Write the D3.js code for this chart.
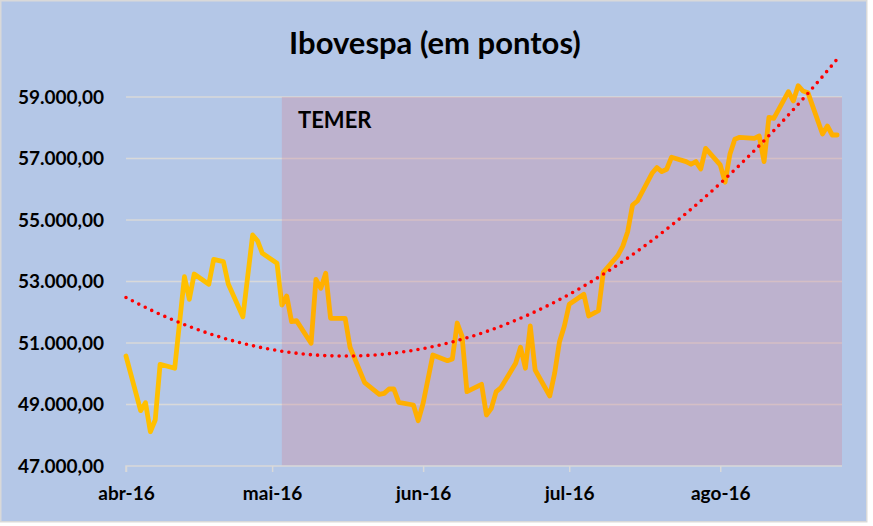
<!DOCTYPE html>
<html>
<head>
<meta charset="utf-8">
<script src="https://cdn.jsdelivr.net/npm/d3@7"></script>
<style>
  html, body { margin: 0; padding: 0; background: #ffffff; }
  svg { display: block; font-family: Lato, "Open Sans", sans-serif; }
</style>
</head>
<body>
<svg id="chart" width="873" height="526"></svg>
<script>
// ---- data ----
const title = "Ibovespa (em pontos)";
const periodLabel = "TEMER";
const periodStart = "2016-05-03";
const domainStart = "2016-04-01";
const domainEnd = "2016-08-26";
const yTicks = [47000, 49000, 51000, 53000, 55000, 57000, 59000];
const monthTicks = ["2016-04-01", "2016-05-01", "2016-06-01", "2016-07-01", "2016-08-01"];
const monthLabels = ["abr-16", "mai-16", "jun-16", "jul-16", "ago-16"];

const dates = [
  "2016-04-01","2016-04-04","2016-04-05","2016-04-06","2016-04-07","2016-04-08",
  "2016-04-11","2016-04-13","2016-04-14","2016-04-15","2016-04-18","2016-04-19",
  "2016-04-21","2016-04-22","2016-04-25","2016-04-27","2016-04-28","2016-04-29",
  "2016-05-02","2016-05-03","2016-05-04","2016-05-05","2016-05-06","2016-05-09",
  "2016-05-10","2016-05-11","2016-05-12","2016-05-13","2016-05-16","2016-05-17",
  "2016-05-20","2016-05-23","2016-05-24","2016-05-25","2016-05-26","2016-05-27",
  "2016-05-30","2016-05-31","2016-06-01","2016-06-03","2016-06-06","2016-06-07",
  "2016-06-08","2016-06-09","2016-06-10","2016-06-13","2016-06-14","2016-06-15",
  "2016-06-16","2016-06-17","2016-06-20","2016-06-21","2016-06-22","2016-06-23",
  "2016-06-24","2016-06-27","2016-06-28","2016-06-29","2016-06-30","2016-07-01",
  "2016-07-04","2016-07-05","2016-07-07","2016-07-08","2016-07-11","2016-07-12",
  "2016-07-13","2016-07-14","2016-07-15","2016-07-18","2016-07-19","2016-07-20",
  "2016-07-21","2016-07-22","2016-07-25","2016-07-26","2016-07-27","2016-07-28",
  "2016-07-29","2016-08-01","2016-08-02","2016-08-03","2016-08-04","2016-08-05",
  "2016-08-08","2016-08-09","2016-08-10","2016-08-11","2016-08-12","2016-08-15",
  "2016-08-16","2016-08-17","2016-08-18","2016-08-19","2016-08-22","2016-08-23",
  "2016-08-24","2016-08-25"
];
const values = [
  50577,48800,49060,48115,48496,50307,
  50177,53156,52420,53244,52910,53720,
  53645,52919,51855,54512,54327,53917,
  53593,52236,52528,51693,51726,50990,
  53072,52779,53266,51802,51802,50861,
  49709,49331,49363,49504,49504,49070,
  48984,48474,49040,50610,50425,50480,
  51650,51215,49417,49656,48659,48873,
  49417,49550,50340,50860,50178,51553,
  50122,49276,50014,51042,51553,52258,
  52585,51878,52053,53300,53850,54150,
  54620,55488,55618,56520,56704,56574,
  56650,57040,56899,56813,56899,56660,
  57330,56790,56230,57150,57624,57689,
  57657,57732,56899,58340,58307,59172,
  58870,59368,59195,59141,57797,58057,
  57764,57764
];

// ---- chart ----
const W = 873, H = 526;
const parse = d3.utcParse("%Y-%m-%d");
const svg = d3.select("#chart");

const x = d3.scaleUtc().domain([parse(domainStart), parse(domainEnd)]).range([126, 842]);
const y = d3.scaleLinear().domain([47000, 59000]).range([466, 97]);

const loc = d3.formatLocale({decimal: ",", thousands: ".", grouping: [3], currency: ["R$", ""]});
const fmt = loc.format(",.2f");

const data = dates.map((d, i) => ({date: parse(d), value: values[i]}));

// background + border
svg.append("rect").attr("x", 0.75).attr("y", 0.75).attr("width", 866).attr("height", 521)
  .attr("fill", "#B4C7E7").attr("stroke", "#D9D9D9").attr("stroke-width", 1.5);

// title
svg.append("text").attr("x", 435).attr("y", 54).attr("text-anchor", "middle")
  .attr("font-size", 31).attr("font-weight", 700).attr("fill", "#000").text(title);

// gridlines
svg.append("g").selectAll("line").data(yTicks.slice(1)).join("line")
  .attr("x1", x.range()[0]).attr("x2", x.range()[1])
  .attr("y1", d => y(d)).attr("y2", d => y(d))
  .attr("stroke", "#D9D9D9").attr("stroke-width", 1.5);

// y labels
svg.append("g").selectAll("text").data(yTicks).join("text")
  .attr("x", 104).attr("y", d => y(d)).attr("dy", "0.36em").attr("text-anchor", "end")
  .attr("font-size", 19).attr("font-weight", 700).attr("fill", "#000")
  .text(d => fmt(d));

// period shading (overlay)
const xs = x(parse(periodStart));
svg.append("rect").attr("x", xs).attr("y", y(59000))
  .attr("width", x.range()[1] - xs).attr("height", y(47000) - y(59000))
  .attr("fill", "rgb(205,140,160)").attr("fill-opacity", 0.35);

svg.append("text").attr("x", 298).attr("y", 128).attr("font-size", 22).attr("font-weight", 700)
  .attr("fill", "#000").text(periodLabel);

// x axis
const xAxis = d3.axisBottom(x).tickValues(monthTicks.map(parse)).tickSize(6).tickFormat((d, i) => monthLabels[i]);
const gx = svg.append("g").attr("transform", `translate(0,${y(47000)})`).call(xAxis);
gx.select(".domain").attr("stroke", "#D9D9D9").attr("stroke-width", 1.5).attr("d", `M${x.range()[0]},6V0H${x.range()[1]}`);
gx.selectAll(".tick line").attr("stroke", "#D9D9D9").attr("stroke-width", 1.5);
gx.selectAll(".tick text").attr("font-size", 19).attr("font-weight", 700).attr("fill", "#000")
  .attr("font-family", "Lato, 'Open Sans', sans-serif").attr("y", 21).attr("dy", "0.71em");

// clip paths for line colouring
const defs = svg.append("defs");
defs.append("clipPath").attr("id", "clipPre").append("rect")
  .attr("x", 0).attr("y", 0).attr("width", xs).attr("height", H);
defs.append("clipPath").attr("id", "clipPost").append("rect")
  .attr("x", xs).attr("y", 0).attr("width", W - xs).attr("height", H);

const line = d3.line().x(d => x(d.date)).y(d => y(d.value));
svg.append("path").datum(data).attr("d", line).attr("clip-path", "url(#clipPre)")
  .attr("fill", "none").attr("stroke", "#FFC000").attr("stroke-width", 4.8)
  .attr("stroke-linejoin", "round").attr("stroke-linecap", "round");
svg.append("path").datum(data).attr("d", line).attr("clip-path", "url(#clipPost)")
  .attr("fill", "none").attr("stroke", "#FFAF00").attr("stroke-width", 4.8)
  .attr("stroke-linejoin", "round").attr("stroke-linecap", "round");

// polynomial (order 2) trendline, least squares on day offsets
const t0 = parse(domainStart).getTime();
const ts = data.map(d => (d.date.getTime() - t0) / 864e5);
const n = ts.length;
let S = [0,0,0,0,0], T = [0,0,0];
ts.forEach((t, i) => {
  for (let k = 0; k < 5; k++) S[k] += Math.pow(t, k);
  for (let k = 0; k < 3; k++) T[k] += values[i] * Math.pow(t, k);
});
function solve3(A, b) {
  const M = A.map((r, i) => r.concat([b[i]]));
  for (let c = 0; c < 3; c++) {
    let p = c; for (let r = c + 1; r < 3; r++) if (Math.abs(M[r][c]) > Math.abs(M[p][c])) p = r;
    [M[c], M[p]] = [M[p], M[c]];
    for (let r = 0; r < 3; r++) if (r !== c) {
      const f = M[r][c] / M[c][c];
      for (let k = c; k < 4; k++) M[r][k] -= f * M[c][k];
    }
  }
  return M.map((r, i) => r[3] / r[i]);
}
const coef = solve3([[S[0],S[1],S[2]],[S[1],S[2],S[3]],[S[2],S[3],S[4]]], T);
const trend = d3.range(ts[0], ts[n - 1] + 0.001, 0.5).map(t => ({
  date: new Date(t0 + t * 864e5), value: coef[0] + coef[1] * t + coef[2] * t * t
}));
svg.append("path").datum(trend).attr("d", line)
  .attr("fill", "none").attr("stroke", "#FF0000").attr("stroke-width", 3.6)
  .attr("stroke-linecap", "round").attr("stroke-dasharray", "0 7.2");
</script>
</body>
</html>
